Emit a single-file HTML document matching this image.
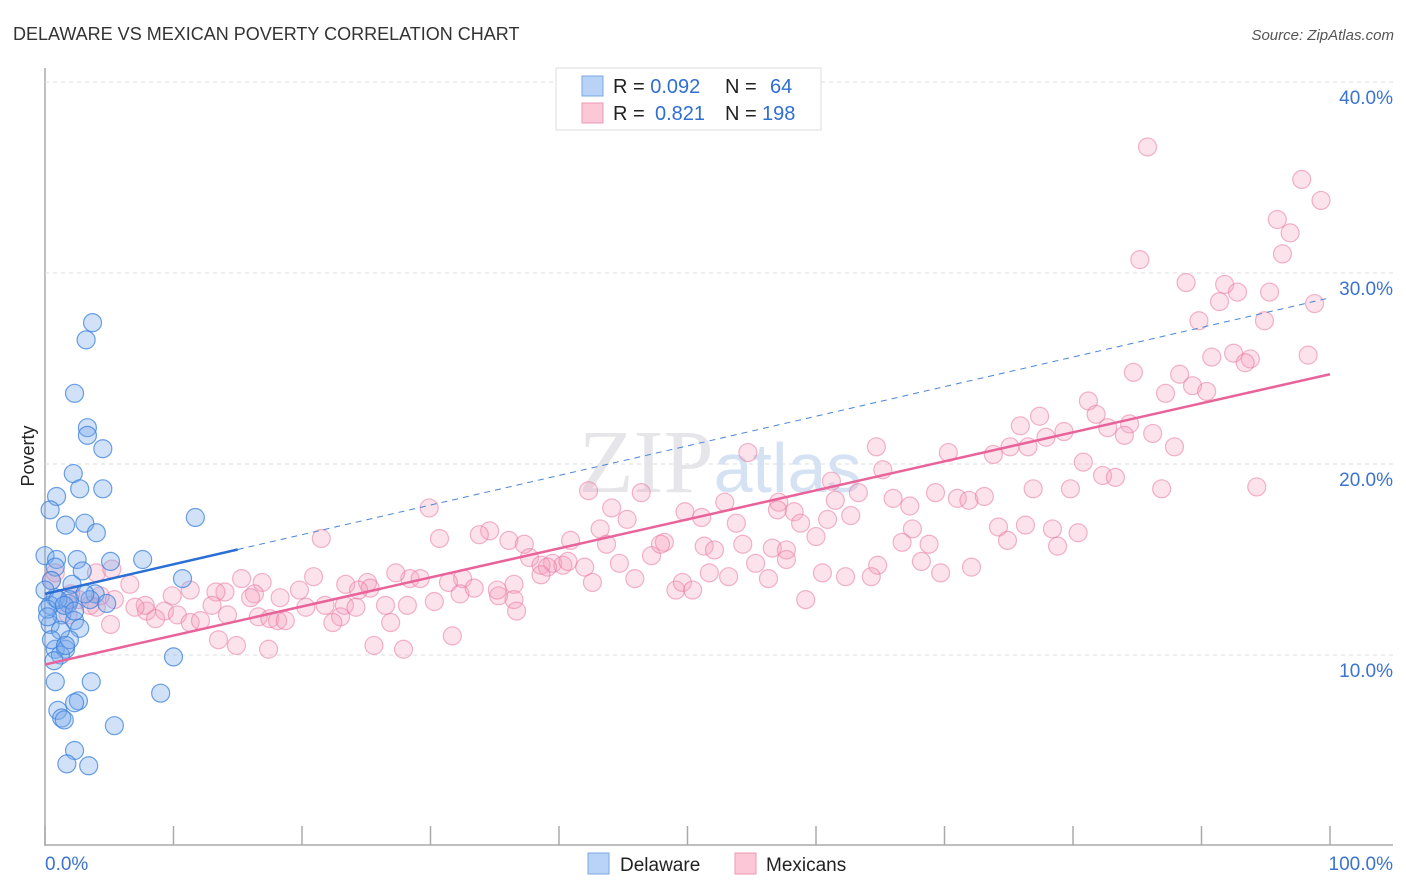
<!DOCTYPE html>
<html><head><meta charset="utf-8"><style>
body{margin:0;background:#fff;font-family:"Liberation Sans",sans-serif}
svg{display:block}
</style></head><body>
<svg id="chart" width="1406" height="892">
<text x="13" y="40" font-size="18" fill="#333">DELAWARE VS MEXICAN POVERTY CORRELATION CHART</text>
<text x="1394" y="40" font-size="15" fill="#555" font-style="italic" text-anchor="end">Source: ZipAtlas.com</text>
<text x="34" y="456" font-size="18" fill="#222" transform="rotate(-90 34 456)" text-anchor="middle">Poverty</text>
<g id="grid"></g>
<text x="720" y="492" font-size="90" fill="#e6e6ea" text-anchor="middle" font-family="Liberation Serif,serif">ZIP<tspan fill="#d5e2f3" font-family="Liberation Sans,sans-serif" font-size="70">atlas</tspan></text>
<g id="pts"></g>
<g id="lines"></g>
<g>
<rect x="556" y="68" width="265" height="62" fill="#fff" stroke="#ddd"/>
<rect x="582" y="76" width="21" height="20" fill="#b8d3f5" stroke="#7aa8e6"/>
<rect x="582" y="103" width="21" height="20" fill="#fcc8d8" stroke="#ec9ab5"/>
<text x="613" y="93" font-size="20" fill="#222">R = <tspan fill="#2f6fd0">0.092</tspan><tspan x="725">N =</tspan><tspan x="770" fill="#2f6fd0">64</tspan></text>
<text x="613" y="120" font-size="20" fill="#222">R = <tspan x="655" fill="#2f6fd0">0.821</tspan><tspan x="725">N =</tspan><tspan x="762" fill="#2f6fd0">198</tspan></text>
</g>
<g>
<rect x="588" y="853" width="21" height="21" fill="#b8d3f5" stroke="#7aa8e6"/>
<text x="620" y="871" font-size="19" fill="#222">Delaware</text>
<rect x="735" y="853" width="21" height="21" fill="#fcc8d8" stroke="#ec9ab5"/>
<text x="766" y="871" font-size="19" fill="#222">Mexicans</text>
</g>
</svg>
<script>
const yTicks=[10,20,30,40];
const xTickLabels=["0.0%","100.0%"];
const blueX=[3.7,3.2,2.3,3.3,3.3,4.5,2.2,2.7,4.5,0.9,0.4,1.6,3.1,4.0,11.7,0,0.9,2.5,5.1,7.6,0.8,2.9,10.7,2.1,3.9,0.8,0.4,1.8,4.8,1.3,2.3,2.7,0.4,0.8,1.6,1.9,1.2,10.0,0.8,3.6,9.0,2.6,2.3,1.0,1.3,1.5,5.4,2.3,1.7,3.4,0.5,0.2,1.2,0,0.5,1.9,1.0,1.5,0.2,3.5,3.1,1.6,0.7,2.3];
const blueY=[27.4,26.5,23.7,21.9,21.5,20.8,19.5,18.7,18.7,18.3,17.6,16.8,16.9,16.4,17.2,15.2,15.0,15.0,14.9,15.0,14.6,14.4,14.0,13.7,13.2,13.0,12.6,12.7,12.7,12.1,11.8,11.4,11.6,10.3,10.3,10.8,10.0,9.9,8.6,8.6,8.0,7.6,7.5,7.1,6.7,6.6,6.3,5.0,4.3,4.2,13.9,12.4,11.3,13.4,10.8,12.9,12.9,12.6,12.0,12.9,13.2,10.5,9.7,12.3];
const pinkX=[85.8,97.8,99.3,95.9,96.9,96.3,85.2,88.8,91.8,92.8,95.3,91.4,98.8,89.8,94.9,92.5,93.8,90.8,98.3,93.4,84.7,88.3,89.3,87.2,90.4,81.2,77.4,81.8,84.4,75.9,82.7,79.3,86.2,75.1,84.0,76.5,77.9,87.9,64.7,54.7,70.3,73.8,80.8,82.3,83.3,65.2,61.2,63.3,76.9,79.8,86.9,94.3,69.3,66.0,71.0,71.9,73.1,57.1,61.5,67.3,42.3,46.4,52.9,49.8,51.1,53.8,57.0,58.3,58.8,62.7,60.9,67.5,74.2,76.3,78.4,80.4,29.9,44.1,45.3,34.6,33.8,43.2,36.1,37.3,43.7,48.2,51.3,54.3,56.6,57.7,60.0,66.7,68.8,74.9,78.8,21.5,30.7,40.9,47.2,47.9,37.7,39.5,38.6,40.3,40.7,42.0,42.6,39.1,44.7,52.1,55.3,57.7,64.8,68.2,69.7,72.1,28.4,29.2,32.5,31.4,27.3,25.1,25.3,23.4,24.4,20.9,19.8,15.3,16.9,16.3,16.0,14.0,13.3,11.3,9.9,6.6,7.9,9.3,7.8,7.0,5.4,4.3,4.0,3.5,2.6,2.0,1.8,5.1,8.6,10.3,11.3,12.1,13.0,14.2,16.6,17.5,18.1,18.7,20.3,21.8,23.3,24.2,26.5,28.2,30.3,32.3,33.4,35.3,36.5,36.5,38.6,45.9,49.1,49.6,50.4,51.7,53.2,56.3,59.2,60.5,62.3,64.3,36.7,35.2,26.9,23.0,22.4,13.5,14.9,17.4,25.6,27.9,31.7,0.5,0.8,4.0,5.2,18.3];
const pinkY=[36.6,34.9,33.8,32.8,32.1,31.0,30.7,29.5,29.4,29.0,29.0,28.5,28.4,27.5,27.5,25.8,25.5,25.6,25.7,25.3,24.8,24.7,24.1,23.7,23.8,23.3,22.5,22.6,22.1,22.0,21.9,21.7,21.6,20.9,21.5,20.9,21.4,20.9,20.9,20.6,20.6,20.5,20.1,19.4,19.3,19.7,19.1,18.5,18.7,18.7,18.7,18.8,18.5,18.2,18.2,18.1,18.3,18.0,18.1,17.8,18.6,18.5,18.0,17.5,17.2,16.9,17.6,17.5,16.9,17.3,17.1,16.6,16.7,16.8,16.6,16.4,17.7,17.7,17.1,16.5,16.3,16.6,16.0,15.8,15.8,15.9,15.7,15.8,15.6,15.5,16.2,15.9,15.8,16.0,15.7,16.1,16.1,16.0,15.2,15.8,15.1,14.8,14.7,14.7,14.9,14.6,13.8,14.6,14.8,15.5,14.8,15.0,14.7,14.9,14.3,14.6,14.0,14.0,14.0,13.8,14.3,13.8,13.5,13.7,13.4,14.1,13.4,14.0,13.8,13.2,13.0,13.3,13.3,13.4,13.1,13.7,12.3,12.3,12.6,12.5,12.9,13.1,12.5,12.6,12.9,13.2,12.1,11.6,11.9,12.1,11.7,11.8,12.6,12.1,12.0,11.9,11.8,11.8,12.5,12.6,12.6,12.5,12.6,12.6,12.8,13.2,13.5,13.1,13.7,12.9,14.2,14.0,13.4,13.8,13.4,14.3,14.1,14.0,12.9,14.3,14.1,14.1,12.3,13.4,11.7,12.0,11.7,10.8,10.5,10.3,10.5,10.3,11.0,13.9,14.3,14.3,14.5,13.0];
const pinkTrend=[9.5,24.7];
const blueTrend=[13.2,28.7];

const X0=45,X1=1330,Y0=846,PX=19.1;
const sx=v=>X0+v*(X1-X0)/100;
const sy=v=>Y0-v*PX;
const NS="http://www.w3.org/2000/svg";
function mk(tag,attrs,parent){const e=document.createElementNS(NS,tag);for(const k in attrs)e.setAttribute(k,attrs[k]);parent.appendChild(e);return e;}
const grid=document.getElementById('grid');
const ax=mk('line',{x1:45,y1:68,x2:45,y2:846,stroke:'#aaa','stroke-width':1.5},grid);


const bx=mk('line',{x1:45,y1:845,x2:1393,y2:845,stroke:'#aaa','stroke-width':1.5},grid);


yTicks.forEach(t=>{
 const g=mk('line',{x1:45,y1:sy(t),x2:1393,y2:sy(t),stroke:'#ddd','stroke-dasharray':'4,4'},grid);
 
 
 const l=mk('text',{x:1393,y:sy(t)+22,'font-size':19,fill:'#3b73d0','text-anchor':'end'},grid);
 l.textContent=t.toFixed(1)+'%';
 
 
});
for(let i=0;i<=10;i++){
 const t=mk('line',{x1:sx(i*10),y1:826,x2:sx(i*10),y2:845,stroke:'#aaa','stroke-width':1.5},grid);
 
 
}
const xl0=mk('text',{x:45,y:870,'font-size':19,fill:'#3b73d0'},grid);xl0.textContent=xTickLabels[0];


const xl1=mk('text',{x:1393,y:870,'font-size':19,fill:'#3b73d0','text-anchor':'end'},grid);xl1.textContent=xTickLabels[1];



const pts=document.getElementById('pts');
pinkX.forEach((x,i)=>{
 const c=mk('circle',{cx:sx(x),cy:sy(pinkY[i]),r:9,fill:'rgba(244,160,188,0.3)',stroke:'rgba(232,120,160,0.55)','stroke-width':1.2},pts);
 
 
});
blueX.forEach((x,i)=>{
 const c=mk('circle',{cx:sx(x),cy:sy(blueY[i]),r:9,fill:'rgba(120,170,235,0.35)',stroke:'rgba(60,130,220,0.75)','stroke-width':1.2},pts);
 
 
});
const lines=document.getElementById('lines');
const bl=v=>blueTrend[0]+(blueTrend[1]-blueTrend[0])*v/100;
const l1=mk('line',{x1:sx(0),y1:sy(pinkTrend[0]),x2:sx(100),y2:sy(pinkTrend[1]),stroke:'#e8639a','stroke-width':2.5},lines);


const l2=mk('line',{x1:sx(15),y1:sy(bl(15)),x2:sx(100),y2:sy(bl(100)),stroke:'#4a85d8','stroke-width':1,'stroke-dasharray':'6,5'},lines);


const l3=mk('line',{x1:sx(0),y1:sy(bl(0)),x2:sx(15),y2:sy(bl(15)),stroke:'#2a6fd6','stroke-width':2.5},lines);


</script>
</body></html>
